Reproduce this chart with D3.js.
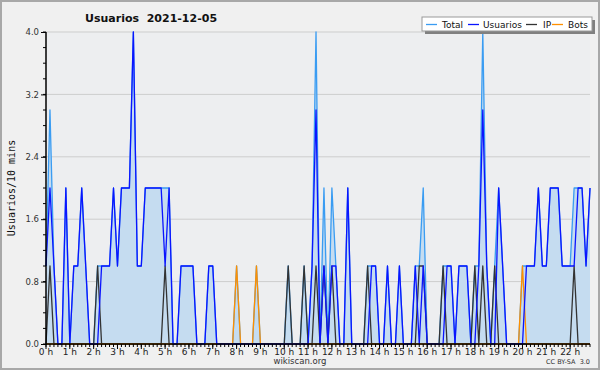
<!DOCTYPE html>
<html><head><meta charset="utf-8">
<script src="https://cdn.jsdelivr.net/npm/d3@7"></script>
<style>
html,body{margin:0;padding:0;background:#f0f0f0;}
svg{display:block;}
text{white-space:pre;}
</style></head>
<body>
<svg id="chart" width="600" height="370"></svg>
<script>
// 10-minute slots from 0 h to 22 h 50
const usuarios = [
  1,2,1,0,0,2, 0,1,1,2,1,0, 0,0,1,1,1,2, 1,2,2,2,4,1, 1,2,2,2,2,2,
  1,2,0,0,1,1, 1,1,0,0,0,1, 1,0,0,0,0,0, 0,0,0,0,0,0, 0,0,0,0,0,0,
  0,0,0,0,0,0, 0,1,3,0,1,0, 1,1,0,0,2,0, 0,0,0,0,1,1, 0,0,1,0,0,1,
  0,0,0,1,0,1, 0,0,0,0,0,1, 1,0,1,1,1,0, 0,1,3,1,0,0, 2,1,0,0,0,0,
  0,1,1,1,2,1, 1,2,2,2,1,1, 1,1,2,2,1,2
];
const ip = [
  0,1,0,0,0,0, 0,0,0,0,0,0, 0,1,0,0,0,0, 0,0,0,0,0,0, 0,0,0,0,0,0,
  1,0,0,0,0,0, 0,0,0,0,0,0, 0,0,0,0,0,0, 0,0,0,0,0,0, 0,0,0,0,0,0,
  0,1,0,0,0,1, 0,0,1,0,1,0, 1,0,0,0,0,0, 0,0,0,1,0,0, 0,0,0,0,0,0,
  0,0,0,0,1,1, 0,0,0,0,1,0, 0,0,0,0,0,0, 1,0,1,0,0,1, 0,0,0,0,0,0,
  0,0,0,0,0,0, 0,0,0,0,0,0, 0,1,0,0,0,0
];
const bots = [
  0,0,0,0,0,0, 0,0,0,0,0,0, 0,0,0,0,0,0, 0,0,0,0,0,0, 0,0,0,0,0,0,
  0,0,0,0,0,0, 0,0,0,0,0,0, 0,0,0,0,0,0, 1,0,0,0,0,1, 0,0,0,0,0,0,
  0,0,0,0,0,0, 0,0,0,0,0,0, 0,0,0,0,0,0, 0,0,0,0,0,0, 0,0,0,0,0,0,
  0,0,0,0,0,0, 0,0,0,0,0,0, 0,0,0,0,0,0, 0,0,0,0,0,0, 0,0,0,0,0,0,
  1,0,0,0,0,0, 0,0,0,0,0,0, 0,0,0,0,0,0
];
const total = [
  1,3,1,0,0,2, 0,1,1,2,1,0, 0,1,1,1,1,2, 1,2,2,2,4,1, 1,2,2,2,2,2,
  2,2,0,0,1,1, 1,1,0,0,0,1, 1,0,0,0,0,0, 1,0,0,0,0,1, 0,0,0,0,0,0,
  0,1,0,0,0,1, 0,1,4,0,2,0, 2,1,0,0,2,0, 0,0,0,1,1,1, 0,0,1,0,0,1,
  0,0,0,1,1,2, 0,0,0,0,1,1, 1,0,1,1,1,0, 1,1,4,1,0,1, 2,1,0,0,0,0,
  1,1,1,1,2,1, 1,2,2,2,1,1, 1,2,2,2,1,2
];
const hourLabels = ["0 h","1 h","2 h","3 h","4 h","5 h","6 h","7 h","8 h","9 h","10 h","11 h",
  "12 h","13 h","14 h","15 h","16 h","17 h","18 h","19 h","20 h","21 h","22 h"];
const yTicks = [0, 0.8, 1.6, 2.4, 3.2, 4.0];
const seriesNames = ["Total","Usuarios","IP","Bots"];
const title = "Usuarios  2021-12-05";
const yTitle = "Usuarios/10 mins";

const svg = d3.select("#chart");
const W = 600, H = 370;
const L = 46, R = 590, T = 32, B = 344;
const slotsPerHour = 6;

svg.append("rect").attr("x",1).attr("y",1).attr("width",W-2).attr("height",H-2)
  .attr("fill","#f0f0f0").attr("stroke","#a8a8a8").attr("stroke-width",2);

const x = d3.scaleLinear().domain([0, total.length-1]).range([L, R]);
const y = d3.scaleLinear().domain([0, 4]).range([B, T]);

svg.append("rect").attr("x",L).attr("y",T).attr("width",R-L).attr("height",B-T).attr("fill","#edeef0");

// grid
svg.append("g").selectAll("line").data(yTicks.filter(d=>d>0)).join("line")
  .attr("x1",L).attr("x2",R).attr("y1",d=>y(d)).attr("y2",d=>y(d))
  .attr("stroke","#cdcdcd").attr("stroke-width",1);

// area under total
const area = d3.area().x((d,i)=>x(i)).y0(y(0)).y1(d=>y(d));
svg.append("path").datum(total).attr("d",area).attr("fill","#c5dcf0");

const line = d3.line().x((d,i)=>x(i)).y(d=>y(d));
const series = [
  {name:"Total", data: total, color:"#3a9cf2"},
  {name:"Usuarios", data: usuarios, color:"#0a14ff"},
  {name:"IP", data: ip, color:"#333333"},
  {name:"Bots", data: bots, color:"#ff9000"}
];
// draw order: total, IP, bots, usuarios
[series[0], series[2], series[3], series[1]].forEach(s=>{
  svg.append("path").datum(s.data).attr("d",line).attr("fill","none")
    .attr("stroke",s.color).attr("stroke-width",1.3).attr("stroke-linejoin","round");
});

// y axis
const yAxis = d3.axisLeft(y).tickValues(yTicks).tickFormat(d3.format(".1f")).tickSize(5);
const gy = svg.append("g").attr("transform",`translate(${L},0)`).call(yAxis);
gy.select(".domain").remove();
gy.selectAll("text").attr("font-family","DejaVu Sans").attr("font-size",8.5).attr("fill","#333").attr("dx",1);
gy.selectAll(".tick line").attr("stroke","#000");
const yMinor = d3.range(0, 4.0001, 0.2);
svg.append("g").selectAll("line").data(yMinor).join("line")
  .attr("x1",L-3).attr("x2",L).attr("y1",d=>y(d)).attr("y2",d=>y(d)).attr("stroke","#000");
svg.append("line").attr("x1",L).attr("x2",L).attr("y1",T).attr("y2",B+1).attr("stroke","#000").attr("stroke-width",1.5);

// x axis
const xMinor = d3.range(0, total.length);
svg.append("g").selectAll("line").data(xMinor).join("line")
  .attr("x1",d=>x(d)).attr("x2",d=>x(d)).attr("y1",B).attr("y2",B+3).attr("stroke","#000");
const hourIdx = hourLabels.map((l,h)=>h*slotsPerHour);
svg.append("g").selectAll("line").data(hourIdx).join("line")
  .attr("x1",d=>x(d)).attr("x2",d=>x(d)).attr("y1",B).attr("y2",B+5).attr("stroke","#000");
svg.append("g").selectAll("text").data(hourLabels).join("text")
  .attr("x",(d,h)=>x(h*slotsPerHour)).attr("y",B+11).attr("text-anchor","middle")
  .attr("font-family","DejaVu Sans").attr("font-size",9).attr("fill","#222").text(d=>d);
svg.append("line").attr("x1",L).attr("x2",R).attr("y1",B).attr("y2",B).attr("stroke","#000").attr("stroke-width",1.5);

// title
svg.append("text").attr("x",85).attr("y",22).attr("font-family","DejaVu Sans").attr("font-weight","bold")
  .attr("font-size",11).attr("fill","#111").text(title);
// y title
svg.append("text").attr("transform",`translate(15,${(T+B)/2}) rotate(-90)`).attr("text-anchor","middle")
  .attr("font-family","DejaVu Sans Mono").attr("font-size",10).attr("fill","#111").text(yTitle);

// legend
const lg = svg.append("g");
lg.append("rect").attr("x",425).attr("y",20).attr("width",170).attr("height",14).attr("fill","#808080");
lg.append("rect").attr("x",422).attr("y",17).attr("width",170).attr("height",14).attr("fill","#fff").attr("stroke","#999").attr("stroke-width",1);
const lgPos = [{lx:426,tx:442},{lx:468,tx:483},{lx:526,tx:543},{lx:552,tx:568}];
series.forEach((s,k)=>{
  lg.append("line").attr("x1",lgPos[k].lx).attr("x2",lgPos[k].lx+11).attr("y1",24.5).attr("y2",24.5)
    .attr("stroke",s.color).attr("stroke-width",1.3);
  lg.append("text").attr("x",lgPos[k].tx).attr("y",28).attr("font-family","DejaVu Sans")
    .attr("font-size",9).attr("fill","#111").text(seriesNames[k]);
});

// footer
svg.append("text").attr("x",300).attr("y",364).attr("text-anchor","middle").attr("font-family","DejaVu Sans")
  .attr("font-size",8.5).attr("fill","#333").text("wikiscan.org");
svg.append("text").attr("x",590).attr("y",364).attr("text-anchor","end").attr("font-family","DejaVu Sans")
  .attr("font-size",6.5).attr("fill","#333").text("CC BY-SA  3.0");
</script>
</body></html>
